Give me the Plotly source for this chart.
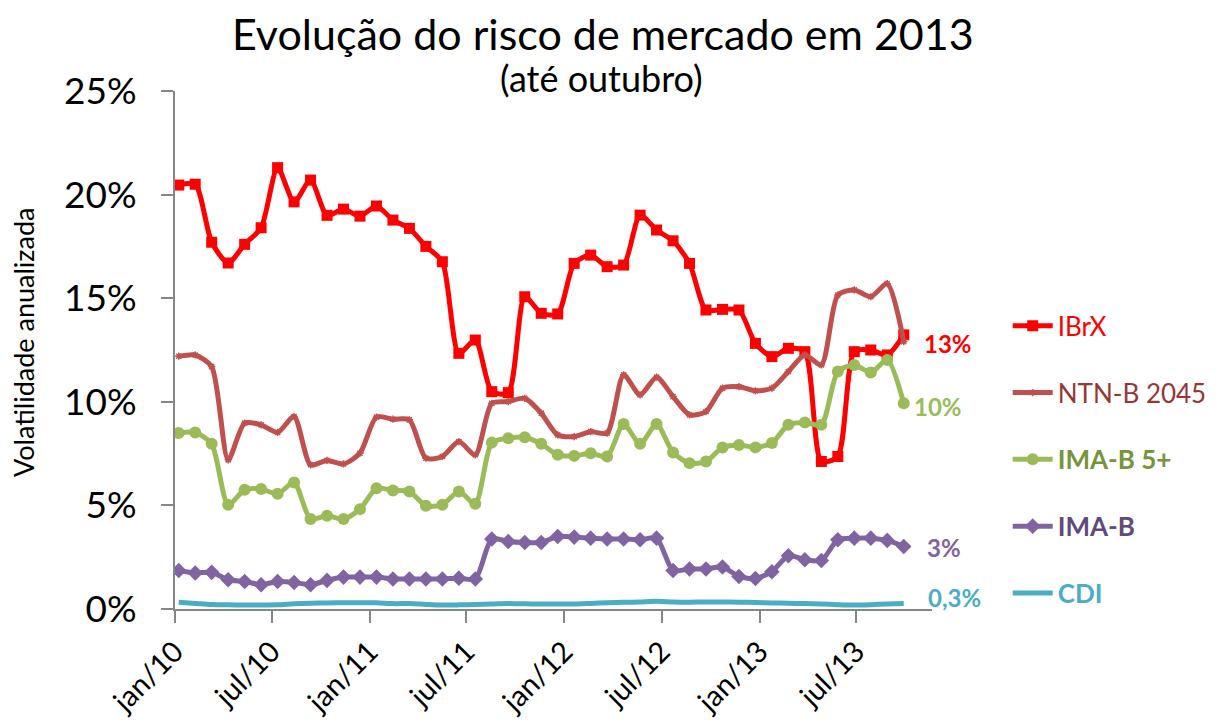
import pandas as pd
import plotly.graph_objects as go

# ---- data ----
dates = pd.date_range("2010-01-08", "2013-09-28", periods=45)  # ~monthly observations

ibrx = [20.46, 20.5, 17.7, 16.7, 17.6, 18.4, 21.3, 19.65, 20.7, 19.0, 19.3, 18.96, 19.45, 18.77, 18.37,
        17.5, 16.76, 12.34, 12.98, 10.49, 10.44, 15.07, 14.27, 14.24, 16.68, 17.08, 16.52, 16.6, 19.01,
        18.29, 17.77, 16.68, 14.43, 14.46, 14.43, 12.82, 12.18, 12.58, 12.42, 7.12, 7.36, 12.42, 12.5,
        12.26, 13.23]
ntnb2045 = [12.2, 12.26, 11.7, 7.2, 8.97, 8.89, 8.52, 9.29, 6.96, 7.17, 7.0, 7.52, 9.26, 9.16, 9.13,
            7.28, 7.36, 8.08, 7.44, 9.93, 10.01, 10.17, 9.45, 8.4, 8.32, 8.56, 8.49, 11.3, 10.33, 11.19,
            10.25, 9.37, 9.53, 10.66, 10.73, 10.53, 10.66, 11.46, 12.26, 11.78, 15.15, 15.4, 15.07,
            15.7, 12.9]
imab5 = [8.49, 8.52, 7.97, 5.03, 5.75, 5.79, 5.56, 6.1, 4.34, 4.5, 4.34, 4.82, 5.83, 5.72, 5.67,
         4.98, 5.03, 5.67, 5.08, 8.03, 8.24, 8.29, 7.97, 7.44, 7.39, 7.52, 7.36, 8.93, 7.97, 8.93,
         7.55, 7.04, 7.12, 7.79, 7.92, 7.8, 8.01, 8.89, 9.0, 8.89, 11.46, 11.78, 11.41, 12.02, 9.93]
imab = [1.86, 1.74, 1.77, 1.41, 1.33, 1.17, 1.33, 1.28, 1.17, 1.38, 1.54, 1.54, 1.54, 1.45, 1.45,
        1.45, 1.45, 1.49, 1.45, 3.38, 3.26, 3.21, 3.21, 3.5, 3.47, 3.42, 3.38, 3.38, 3.34, 3.42,
        1.86, 1.93, 1.93, 2.03, 1.57, 1.47, 1.8, 2.57, 2.38, 2.34, 3.34, 3.42, 3.42, 3.31, 3.02]
cdi = [0.32, 0.27, 0.22, 0.2, 0.19, 0.19, 0.2, 0.25, 0.28, 0.29, 0.3, 0.3, 0.3, 0.26, 0.26,
       0.22, 0.19, 0.2, 0.22, 0.24, 0.27, 0.25, 0.24, 0.24, 0.24, 0.27, 0.3, 0.32, 0.34, 0.37,
       0.34, 0.33, 0.34, 0.34, 0.33, 0.31, 0.29, 0.28, 0.26, 0.24, 0.21, 0.19, 0.21, 0.24, 0.26]

tick_dates = ["2010-01-01", "2010-07-01", "2011-01-01", "2011-07-01",
              "2012-01-01", "2012-07-01", "2013-01-01", "2013-07-01"]
tick_labels = ["jan/10", "jul/10", "jan/11", "jul/11", "jan/12", "jul/12", "jan/13", "jul/13"]
y_ticks = [0, 5, 10, 15, 20, 25]
y_labels = ["0%", "5%", "10%", "15%", "20%", "25%"]

FONT = "Lato, 'Open Sans', sans-serif"
AXIS = "#868686"

series = [
    dict(name="IBrX", y=ibrx, color="#FF0000", text="#FF0000", bold=False,
         marker=dict(symbol="square", size=11)),
    dict(name="NTN-B 2045", y=ntnb2045, color="#C0504D", text="#953735", bold=False,
         marker=dict(symbol="asterisk-open", size=6, line=dict(width=1.5, color="#C0504D"))),
    dict(name="IMA-B 5+", y=imab5, color="#9BBB59", text="#77933C", bold=True,
         marker=dict(symbol="circle", size=12)),
    dict(name="IMA-B", y=imab, color="#8064A2", text="#604A7B", bold=True,
         marker=dict(symbol="diamond", size=12)),
    dict(name="CDI", y=cdi, color="#4BACC6", text="#4BACC6", bold=True, marker=None),
]

fig = go.Figure()
for s in series:
    label = s["name"]
    if s["bold"]:
        label = "<b>" + label + "</b>"
    label = '<span style="color:%s">%s</span>' % (s["text"], label)
    kw = dict(x=dates, y=s["y"], name=label, legendgroup=s["name"],
              line=dict(color=s["color"], width=5, shape="spline", smoothing=0.7))
    if s["marker"] is not None:
        m = dict(s["marker"])
        m.setdefault("color", s["color"])
        kw.update(mode="lines+markers", marker=m)
    else:
        kw.update(mode="lines")
    fig.add_trace(go.Scatter(**kw))

# end-of-series value labels
label_specs = [
    (ibrx, "#FF0000", 18, -9),
    (imab5, "#9BBB59", 8, -3),
    (imab, "#8064A2", 21, -1),
    (cdi, "#4BACC6", 22, 6),
]
for vals, col, xs, ys in label_specs:
    v = vals[-1]
    txt = ("%.0f%%" % v) if v >= 1 else ("%.1f%%" % v).replace(".", ",")
    fig.add_annotation(x=dates[-1], y=v, xref="x", yref="y", text="<b>%s</b>" % txt,
                       showarrow=False, xanchor="left", yanchor="middle", xshift=xs, yshift=ys,
                       font=dict(family=FONT, size=24, color=col))

fig.add_annotation(text="Evolução do risco de mercado em 2013", xref="paper", yref="paper",
                   x=0.565, y=1.0, yshift=58, showarrow=False, xanchor="center", yanchor="middle",
                   font=dict(family=FONT, size=43, color="#000000"))
fig.add_annotation(text="(até outubro)", xref="paper", yref="paper",
                   x=0.564, y=1.0, yshift=13, showarrow=False, xanchor="center", yanchor="middle",
                   font=dict(family=FONT, size=36, color="#000000"))
fig.add_annotation(text="Volatilidade anualizada", xref="paper", yref="paper",
                   x=0, xshift=-152, y=0.5, yshift=7, showarrow=False, textangle=-90,
                   xanchor="center", yanchor="middle",
                   font=dict(family=FONT, size=27, color="#000000"))

fig.update_layout(
    width=1216, height=725,
    margin=dict(l=167, r=292, t=83, b=124, autoexpand=False),
    paper_bgcolor="white", plot_bgcolor="white",
    showlegend=True,
    legend=dict(x=1.10, xanchor="left", y=0.592, yanchor="top",
                font=dict(family=FONT, size=26), tracegroupgap=30,
                bgcolor="rgba(0,0,0,0)", itemwidth=40),
    xaxis=dict(type="date", range=["2010-01-01", "2013-11-20"],
               tickvals=tick_dates, ticktext=tick_labels, tickangle=-45,
               tickfont=dict(family=FONT, size=29, color="#000000"),
               showline=True, linecolor=AXIS, linewidth=2,
               ticks="outside", ticklen=12, tickwidth=2, tickcolor=AXIS,
               showgrid=False, zeroline=False),
    yaxis=dict(range=[0, 25], tickvals=y_ticks, ticktext=y_labels,
               tickfont=dict(family=FONT, size=37, color="#000000"),
               showline=True, linecolor=AXIS, linewidth=2,
               ticks="outside", ticklen=12, tickwidth=2, tickcolor=AXIS,
               ticklabelstandoff=17,
               showgrid=False, zeroline=False),
)

fig.write_html("out.html")
